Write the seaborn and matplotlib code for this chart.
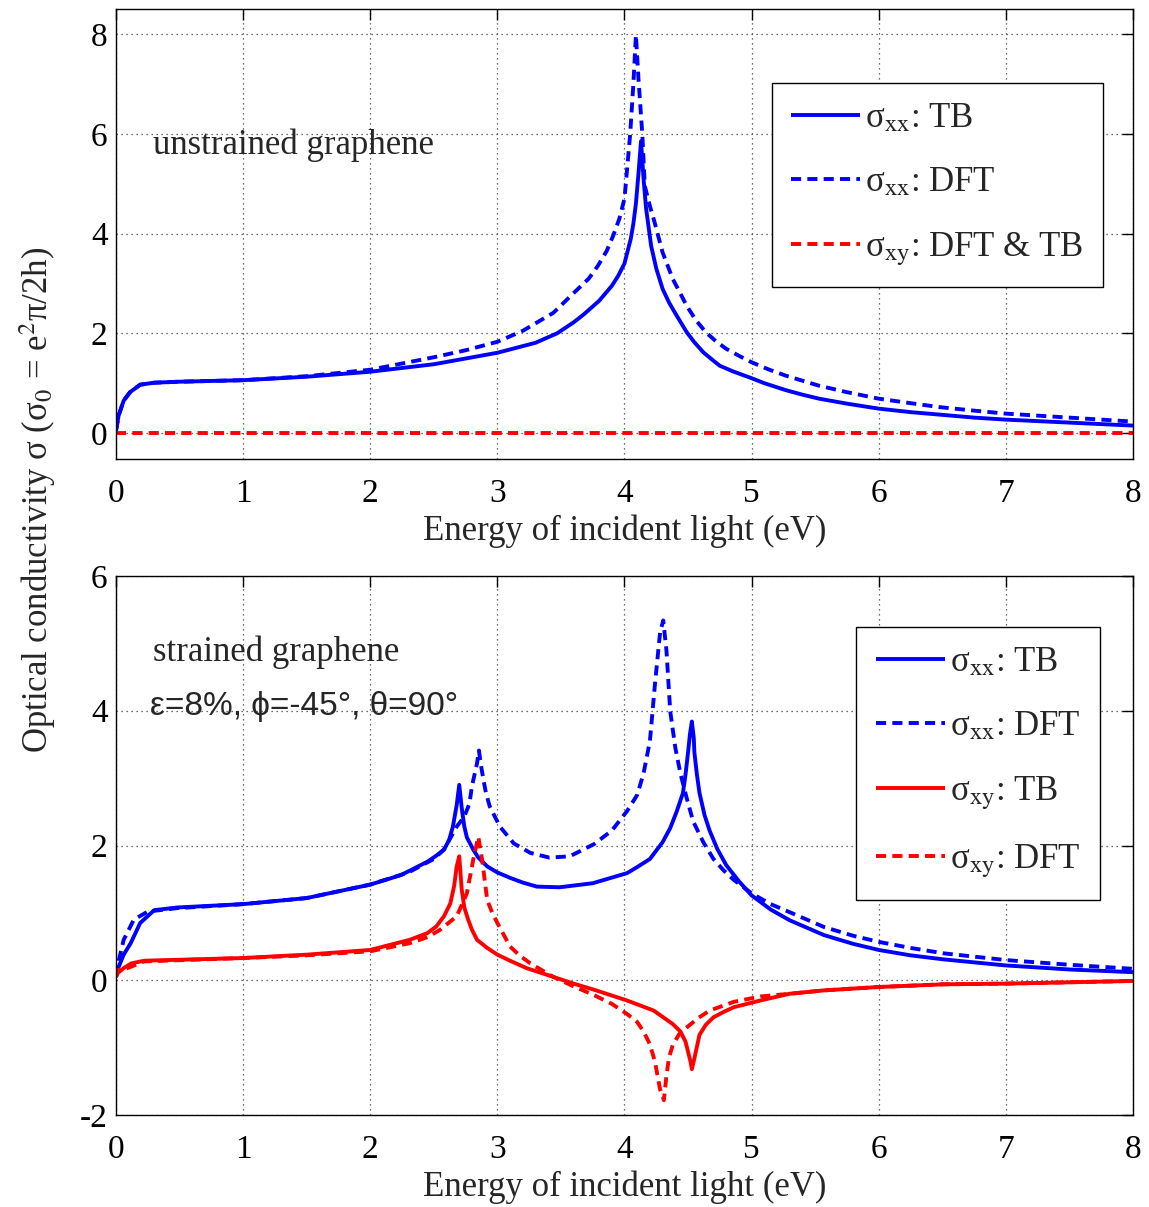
import numpy as np
import pandas as pd
import matplotlib
matplotlib.use("Agg")
import matplotlib.pyplot as plt
import seaborn as sns

# ---------------- data ----------------
# top panel: unstrained graphene
E_top_tb = [0, 0.02, 0.06, 0.11, 0.19, 0.3, 0.5, 1.0, 1.5, 2.0, 2.5, 3.0, 3.3, 3.47, 3.6, 3.68, 3.8,
            3.85, 3.9, 3.95, 4.0, 4.02, 4.05, 4.07, 4.09, 4.11, 4.13, 4.15, 4.17, 4.21, 4.25, 4.3,
            4.35, 4.4, 4.49, 4.55, 4.62, 4.7, 4.75, 4.85, 5.0, 5.1, 5.27, 5.4, 5.53, 5.75, 6.0, 6.25,
            6.48, 6.75, 7.0, 7.25, 7.5, 7.75, 8.0]
sxx_top_tb = [0.05, 0.35, 0.65, 0.82, 0.97, 1.01, 1.03, 1.06, 1.13, 1.23, 1.38, 1.61, 1.81, 2.0, 2.22,
              2.38, 2.65, 2.8, 2.95, 3.15, 3.4, 3.6, 3.9, 4.2, 4.6, 5.2, 5.85, 5.1, 4.5, 3.75, 3.3,
              2.89, 2.62, 2.4, 2.02, 1.82, 1.62, 1.45, 1.35, 1.24, 1.1, 1.0, 0.86, 0.77, 0.69, 0.59,
              0.49, 0.42, 0.37, 0.31, 0.27, 0.24, 0.21, 0.18, 0.15]

E_top_dft = [0, 0.02, 0.06, 0.11, 0.19, 0.3, 0.5, 1.0, 1.5, 2.0, 2.5, 2.75, 3.0, 3.2, 3.44, 3.63, 3.72,
             3.79, 3.86, 3.91, 3.96, 4.0, 4.045, 4.07, 4.09, 4.11, 4.14, 4.16, 4.2, 4.23, 4.3, 4.38,
             4.49, 4.56, 4.64, 4.72, 4.8, 4.9, 5.0, 5.13, 5.27, 5.4, 5.53, 5.75, 6.0, 6.25, 6.48, 6.75,
             7.0, 7.25, 7.5, 7.75, 8.0]
sxx_top_dft = [0.05, 0.35, 0.65, 0.82, 0.97, 1.01, 1.03, 1.06, 1.14, 1.27, 1.52, 1.66, 1.83, 2.05, 2.41,
               2.88, 3.1, 3.35, 3.65, 3.95, 4.3, 4.7, 6.0, 7.0, 7.98, 7.1, 6.0, 4.95, 4.55, 4.29, 3.62,
               3.09, 2.55, 2.27, 2.02, 1.84, 1.69, 1.55, 1.42, 1.28, 1.15, 1.05, 0.95, 0.82, 0.69,
               0.6, 0.52, 0.45, 0.39, 0.35, 0.31, 0.27, 0.23]

E_top_xy = [0, 8]
sxy_top = [0, 0]

# bottom panel: strained graphene
E_bot_tb_xx = [0, 0.01, 0.06, 0.115, 0.19, 0.3, 0.48, 1.0, 1.5, 2.0, 2.24, 2.45, 2.52, 2.58, 2.62,
               2.65, 2.68, 2.70, 2.72, 2.74, 2.76, 2.81, 2.85, 2.92, 3.0, 3.1, 3.2, 3.31, 3.49, 3.75,
               4.02, 4.1, 4.2, 4.3, 4.36, 4.41, 4.46, 4.48, 4.5, 4.515, 4.53, 4.545, 4.55, 4.57, 4.59,
               4.63, 4.67, 4.73, 4.8, 4.9, 5.0, 5.15, 5.3, 5.57, 5.8, 6.0, 6.25, 6.51, 7.0, 7.5, 8.0]
sxx_bot_tb = [0.05, 0.15, 0.38, 0.55, 0.85, 1.04, 1.08, 1.13, 1.22, 1.42, 1.56, 1.76, 1.85, 1.94, 2.08,
              2.28, 2.6, 2.9, 2.55, 2.28, 2.12, 1.94, 1.82, 1.69, 1.6, 1.52, 1.45, 1.39, 1.38, 1.44,
              1.59, 1.68, 1.8, 2.05, 2.26, 2.5, 2.78, 3.05, 3.38, 3.65, 3.84, 3.6, 3.38, 3.05, 2.78,
              2.45, 2.22, 1.95, 1.71, 1.47, 1.26, 1.05, 0.89, 0.67, 0.54, 0.45, 0.37, 0.31, 0.22,
              0.16, 0.12]

E_bot_dft_xx = [0, 0.01, 0.06, 0.14, 0.25, 0.48, 1.0, 1.5, 2.0, 2.3, 2.5, 2.58, 2.68, 2.74, 2.78, 2.80,
                2.82, 2.84, 2.855, 2.87, 2.89, 2.91, 2.94, 3.02, 3.13, 3.26, 3.41, 3.57, 3.76, 3.9, 4.02,
                4.1, 4.15, 4.2, 4.24, 4.28, 4.305, 4.33, 4.36, 4.4, 4.44, 4.49, 4.54, 4.62, 4.70, 4.78,
                4.86, 5.0, 5.15, 5.3, 5.57, 5.8, 6.0, 6.25, 6.51, 7.0, 7.5, 8.0]
sxx_bot_dft = [0.05, 0.2, 0.6, 0.9, 1.02, 1.07, 1.13, 1.22, 1.42, 1.6, 1.8, 1.94, 2.28, 2.43, 2.62, 2.88,
               3.05, 3.22, 3.41, 3.2, 2.98, 2.78, 2.58, 2.28, 2.03, 1.89, 1.82, 1.84, 2.02, 2.22, 2.51,
               2.75, 3.07, 3.55, 4.4, 5.16, 5.34, 4.9, 3.99, 3.45, 3.07, 2.7, 2.36, 2.05, 1.8, 1.63,
               1.49, 1.29, 1.13, 1.01, 0.79, 0.66, 0.57, 0.48, 0.4, 0.3, 0.23, 0.17]

E_bot_tb_xy = [0, 0.01, 0.06, 0.12, 0.22, 1.0, 1.5, 2.0, 2.31, 2.45, 2.52, 2.58, 2.63, 2.66, 2.68, 2.70,
               2.72, 2.74, 2.77, 2.8, 2.84, 2.92, 3.0, 3.1, 3.23, 3.44, 3.6, 3.76, 4.02, 4.23, 4.38,
               4.44, 4.48, 4.52, 4.53, 4.55, 4.59, 4.64, 4.7, 4.78, 4.86, 5.07, 5.3, 5.57, 6.0, 6.51,
               7.0, 7.5, 8.0]
sxy_bot_tb = [0.05, 0.1, 0.18, 0.25, 0.29, 0.33, 0.38, 0.45, 0.6, 0.7, 0.8, 0.95, 1.14, 1.4, 1.69, 1.84,
              1.34, 1.08, 0.9, 0.75, 0.6, 0.48, 0.38, 0.29, 0.18, 0.05, -0.05, -0.14, -0.3, -0.45,
              -0.65, -0.76, -0.91, -1.21, -1.32, -1.16, -0.81, -0.66, -0.55, -0.47, -0.4, -0.3, -0.2,
              -0.15, -0.1, -0.06, -0.05, -0.03, -0.01]

E_bot_dft_xy = [0, 0.01, 0.09, 0.22, 1.0, 1.5, 2.0, 2.31, 2.45, 2.55, 2.68, 2.76, 2.81, 2.85, 2.88,
                2.92, 2.96, 3.0, 3.1, 3.18, 3.26, 3.44, 3.6, 3.76, 3.9, 4.02, 4.1, 4.15, 4.2, 4.24,
                4.28, 4.31, 4.33, 4.35, 4.38, 4.43, 4.49, 4.58, 4.67, 4.86, 5.07, 5.3, 5.57, 6.0,
                6.51, 7.0, 7.5, 8.0]
sxy_bot_dft = [0.05, 0.15, 0.18, 0.28, 0.33, 0.37, 0.43, 0.55, 0.64, 0.75, 0.95, 1.29, 1.79, 2.13, 1.79,
               1.19, 1.0, 0.85, 0.5, 0.36, 0.25, 0.05, -0.09, -0.22, -0.35, -0.5, -0.62, -0.76, -0.95,
               -1.21, -1.62, -1.78, -1.42, -1.15, -0.96, -0.8, -0.7, -0.56, -0.45, -0.32, -0.24,
               -0.2, -0.15, -0.1, -0.06, -0.05, -0.03, -0.01]

x_ticks = [0, 1, 2, 3, 4, 5, 6, 7, 8]
y_ticks_top = [0, 2, 4, 6, 8]
y_ticks_bot = [-2, 0, 2, 4, 6]

# ---------------- style ----------------
sns.set_theme(style="white")
plt.rcParams['font.family'] = ['Liberation Serif', 'DejaVu Serif']
plt.rcParams['mathtext.fontset'] = 'stix'
plt.rcParams['axes.unicode_minus'] = False

LW = 2.8
DASH = (2.6, 1.6)

fig = plt.figure(figsize=(11.49, 12.07), dpi=100)
ax1 = fig.add_axes([0.101, 0.6197, 0.885, 0.3728])
ax2 = fig.add_axes([0.101, 0.0762, 0.885, 0.4466])


def draw(ax, x, y, color, label, dashed):
    sns.lineplot(x=x, y=y, ax=ax, color=color, lw=LW, label=label, estimator=None, sort=False)
    ln = ax.lines[-1]
    if dashed:
        ln.set_dashes(DASH)
    ln.set_solid_capstyle('butt')
    ln.set_dash_capstyle('butt')
    ln.set_solid_joinstyle('round')


draw(ax1, E_top_tb, sxx_top_tb, 'blue', r'σ$_{\rm xx}$: TB', False)
draw(ax1, E_top_dft, sxx_top_dft, 'blue', r'σ$_{\rm xx}$: DFT', True)
draw(ax1, E_top_xy, sxy_top, 'red', r'σ$_{\rm xy}$: DFT & TB', True)

draw(ax2, E_bot_tb_xx, sxx_bot_tb, 'blue', r'σ$_{\rm xx}$: TB', False)
draw(ax2, E_bot_dft_xx, sxx_bot_dft, 'blue', r'σ$_{\rm xx}$: DFT', True)
draw(ax2, E_bot_tb_xy, sxy_bot_tb, 'red', r'σ$_{\rm xy}$: TB', False)
draw(ax2, E_bot_dft_xy, sxy_bot_dft, 'red', r'σ$_{\rm xy}$: DFT', True)

for ax, yt, yl in [(ax1, y_ticks_top, (-0.52, 8.5)), (ax2, y_ticks_bot, (-2, 6))]:
    ax.set_xlim(0, 8)
    ax.set_ylim(*yl)
    ax.set_xticks(x_ticks)
    ax.set_yticks(yt)
    ax.set_xticklabels([str(t) for t in x_ticks])
    ax.set_yticklabels([str(t) for t in yt])
    ax.grid(True, color='0.25', linestyle=(0, (1, 3)), linewidth=0.9)
    ax.tick_params(axis='both', direction='in', length=8, width=1, top=True, right=True,
                   labelsize=24, colors='black')
    ax.tick_params(axis='x', pad=14)
    ax.tick_params(axis='y', pad=6)
    for s in ax.spines.values():
        s.set_visible(True)
        s.set_color('black')
        s.set_linewidth(1.0)
    ax.set_xlabel('Energy of incident light (eV)', fontsize=25, labelpad=4)
    ax.set_ylabel('')

leg_kw = dict(loc='upper right', fontsize=25, frameon=True, fancybox=False, framealpha=1,
              edgecolor='black', borderaxespad=0, handlelength=2.0, handletextpad=0.15,
              labelspacing=0.9, borderpad=0.55)
l1 = ax1.legend(bbox_to_anchor=(0.9705, 0.8356), **leg_kw)
l2 = ax2.legend(bbox_to_anchor=(0.9676, 0.905), **leg_kw)
for l in (l1, l2):
    l.get_frame().set_linewidth(1.0)

ax1.text(0.036, 0.698, 'unstrained graphene', transform=ax1.transAxes, fontsize=25,
         ha='left', va='center')
ax2.text(0.036, 0.859, 'strained graphene', transform=ax2.transAxes, fontsize=25,
         ha='left', va='center')
ax2.text(0.033, 0.757, 'ε=8%, ϕ=-45°, θ=90°', transform=ax2.transAxes, fontsize=24,
         ha='left', va='center', family=['Liberation Sans', 'DejaVu Sans'])

fig.text(0.033, 0.586, r'Optical conductivity σ (σ$_0$ = e$^2$π/2h)', rotation=90,
         fontsize=25, ha='center', va='center')

fig.savefig('out.png', dpi=100)
